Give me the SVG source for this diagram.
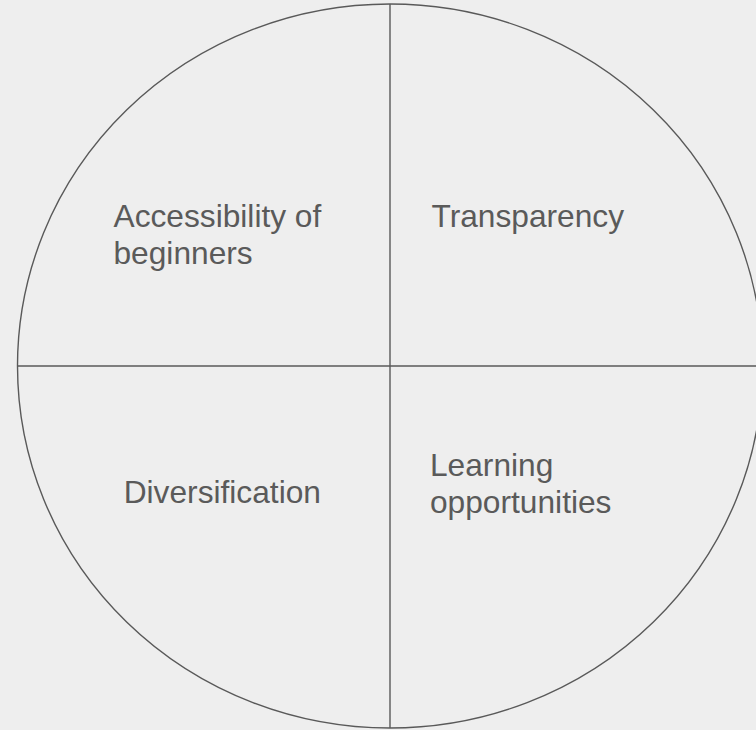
<svg xmlns="http://www.w3.org/2000/svg" width="756" height="730" viewBox="0 0 756 730">
<style>
.ln{fill:none;stroke:#595959;stroke-width:1.4}
.t{font-family:"Liberation Sans",Arial,sans-serif;font-size:31.7px;fill:#5a5a5a}
</style>
<rect x="0" y="0" width="756" height="730" fill="#eeeeee"/>
<g id="circle"><ellipse class="ln" cx="390" cy="366" rx="372.5" ry="362"/></g>
<g id="connectors">
<line class="ln" x1="390" y1="4" x2="390" y2="728"/>
<line class="ln" x1="17.5" y1="366" x2="762" y2="366"/>
</g>
<g id="q1"><text class="t" x="113.5" y="226.7">Accessibility of</text><text class="t" x="113.5" y="264">beginners</text></g>
<g id="q2"><text class="t" x="431.5" y="226.7">Transparency</text></g>
<g id="q3"><text class="t" x="123.7" y="503.3">Diversification</text></g>
<g id="q4"><text class="t" x="430" y="476">Learning</text><text class="t" x="430" y="513.3">opportunities</text></g>
</svg>
